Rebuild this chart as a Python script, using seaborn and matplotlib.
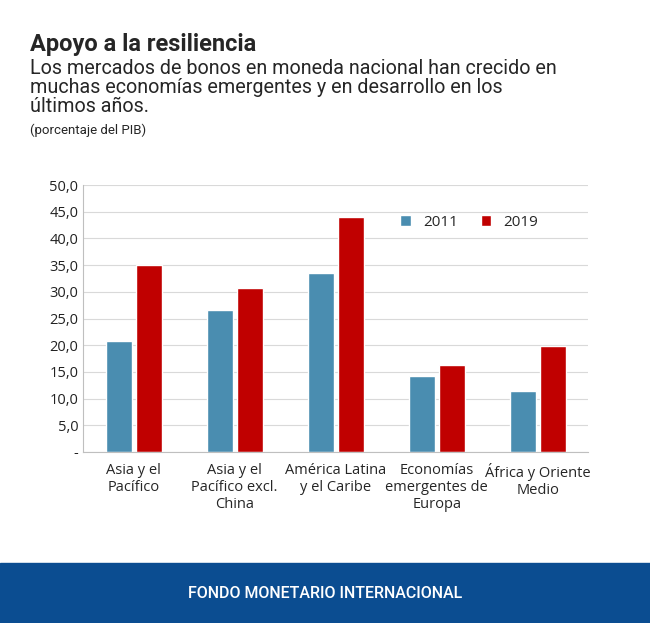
import numpy as np
import pandas as pd
import matplotlib.pyplot as plt
import seaborn as sns
from matplotlib.patches import Rectangle

regiones = ['Asia y el\nPacífico', 'Asia y el\nPacífico excl.\nChina', 'América Latina\ny el Caribe',
            'Economías\nemergentes de\nEuropa', 'África y Oriente\nMedio']
v2011 = [20.8, 26.6, 33.6, 14.2, 11.4]
v2019 = [35.0, 30.8, 44.1, 16.3, 19.9]
yticks = [0, 5, 10, 15, 20, 25, 30, 35, 40, 45, 50]
ylabels = ['-'] + [f'{t:.1f}'.replace('.', ',') for t in yticks[1:]]

df = pd.DataFrame({'region': regiones * 2,
                   'valor': v2011 + v2019,
                   'anio': ['2011'] * 5 + ['2019'] * 5})

sns.set_style('white')
plt.rcParams['font.family'] = ['Roboto', 'DejaVu Sans']

fig = plt.figure(figsize=(6.5, 6.23), dpi=100)
ax = fig.add_axes([0.128, 0.2745, 0.777, 0.4285])
sns.barplot(data=df, x='region', y='valor', hue='anio', ax=ax,
            palette={'2011': '#4a8db0', '2019': '#c00000'}, width=0.6, gap=0.14,
            saturation=1)
ax.set_ylim(0, 50)
ax.set_yticks(yticks)
ax.set_yticklabels(ylabels, fontsize=10.5, family='Open Sans', color='#222222')
ax.tick_params(axis='x', labelsize=10.5, length=0, pad=8)
for lab in ax.get_xticklabels():
    lab.set_family('Open Sans')
ax.tick_params(axis='y', length=0)
ax.set_xlabel('')
ax.set_ylabel('')
ax.yaxis.grid(True, color='#d9d9d9', lw=0.8)
ax.set_axisbelow(True)
for s in ['top', 'right']:
    ax.spines[s].set_visible(False)
ax.spines['left'].set_color('#bfbfbf')
ax.spines['bottom'].set_color('#bfbfbf')
ax.legend(loc='upper left', bbox_to_anchor=(0.6, 0.94), ncol=2, frameon=False,
          handlelength=0.7, handleheight=0.7, columnspacing=1.5,
          prop={'family': 'Open Sans', 'size': 11})

fig.text(0.046, 0.929, 'Apoyo a la resiliencia', fontsize=17, fontweight='bold', va='center')
fig.text(0.046, 0.860, 'Los mercados de bonos en moneda nacional han crecido en\n'
         'muchas economías emergentes y en desarrollo en los\núltimos años.',
         fontsize=14.2, va='center', linespacing=1.0)
fig.text(0.046, 0.791, '(porcentaje del PIB)', fontsize=9.5, va='center')

fig.patches.append(Rectangle((0, 0), 1, 60 / 623, transform=fig.transFigure,
                             color='#0b4d91', zorder=0))
fig.text(0.5, 30 / 623, 'FONDO MONETARIO INTERNACIONAL', color='white', ha='center',
         va='center', fontsize=11.5, fontweight='medium')

fig.savefig('out.png', dpi=100)
